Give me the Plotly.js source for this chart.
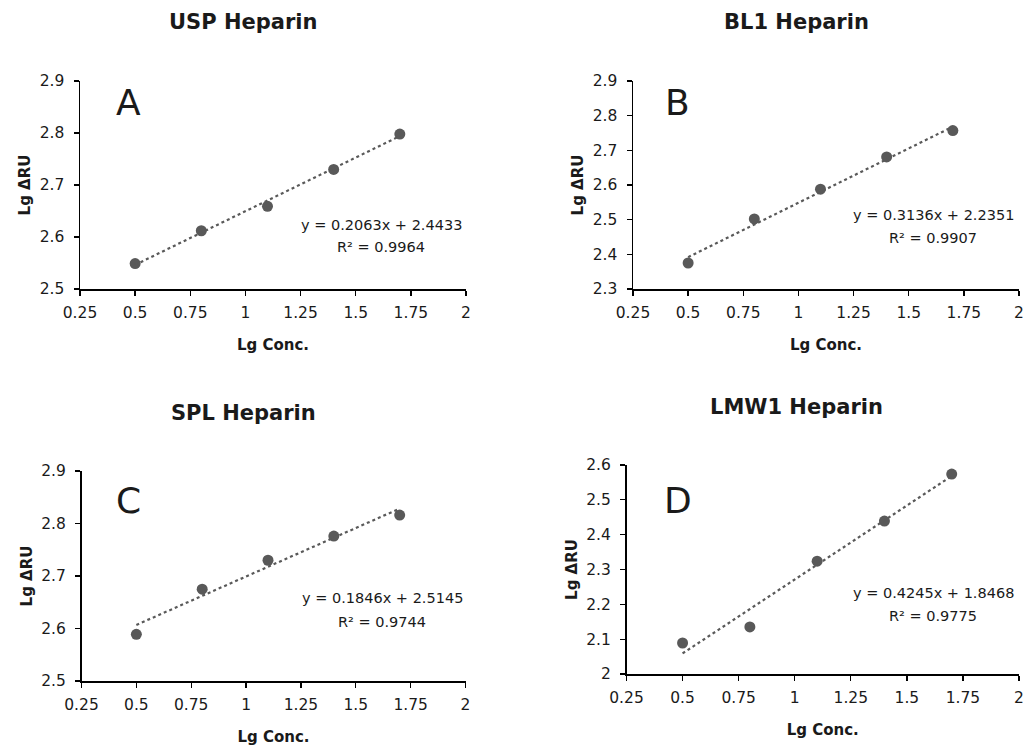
<!DOCTYPE html>
<html>
<head>
<meta charset="utf-8">
<script src="https://cdn.plot.ly/plotly-3.0.1.min.js"></script>
<style>html,body{margin:0;padding:0;background:#fff;}#chart{width:1031px;height:750px;}</style>
</head>
<body>
<div id="chart"></div>
<script>
// ---- data ----
const lgConc = [0.5, 0.8, 1.1, 1.4, 1.7];
const uspHeparin = [2.549, 2.612, 2.659, 2.730, 2.798];
const bl1Heparin = [2.375, 2.502, 2.588, 2.681, 2.757];
const splHeparin = [2.589, 2.675, 2.730, 2.776, 2.816];
const lmw1Heparin = [2.089, 2.135, 2.324, 2.439, 2.574];
const panelTitles = ["USP Heparin", "BL1 Heparin", "SPL Heparin", "LMW1 Heparin"];
const panelLetters = ["A", "B", "C", "D"];
const slopes = [0.2063, 0.3136, 0.1846, 0.4245];
const intercepts = [2.4433, 2.2351, 2.5145, 1.8468];
const rSquared = ["0.9964", "0.9907", "0.9744", "0.9775"];
const yRanges = [[2.5, 2.9], [2.3, 2.9], [2.5, 2.9], [2.0, 2.6]];
const series = [uspHeparin, bl1Heparin, splHeparin, lmw1Heparin];

// ---- layout geometry (pixels) ----
const W = 1031, H = 750;
const px = v => v / W, py = v => 1 - v / H;
const boxes = [
  {l: 80, r: 466, t: 81, b: 289},
  {l: 633, r: 1019, t: 81, b: 289},
  {l: 81.5, r: 465.5, t: 471, b: 681},
  {l: 626.5, r: 1019, t: 465, b: 674}
];
const titlePos = [[243, 22], [796, 22], [243, 413], [796, 407]];
const letterPos = [[128, 103], [677, 103], [128, 500], [678, 500]];
const eqPos = [[381, 225, 247], [933, 215, 238], [382, 598, 622], [933, 593, 616]];

const FONT = "DejaVu Sans, sans-serif";
const TXT = "#1a1a1a";
const MARK = "#595959";

const traces = [];
const layout = {
  width: W, height: H,
  margin: {l: 0, r: 0, t: 0, b: 0},
  paper_bgcolor: "#fff", plot_bgcolor: "#fff",
  showlegend: false,
  font: {family: FONT, color: TXT, size: 14},
  annotations: []
};

for (let i = 0; i < 4; i++) {
  const sx = i === 0 ? "" : String(i + 1);
  const xa = "x" + sx, ya = "y" + sx;
  const b = boxes[i];
  traces.push({
    x: lgConc, y: series[i], xaxis: xa, yaxis: ya,
    type: "scatter", mode: "markers", name: panelTitles[i],
    marker: {color: MARK, size: 11}
  });
  const xmin = Math.min(...lgConc), xmax = Math.max(...lgConc);
  traces.push({
    x: [xmin, xmax],
    y: [slopes[i] * xmin + intercepts[i], slopes[i] * xmax + intercepts[i]],
    xaxis: xa, yaxis: ya, type: "scatter", mode: "lines",
    name: "Linear (" + panelTitles[i] + ")",
    line: {color: MARK, width: 2.2, dash: "dot"}
  });
  const axCommon = {
    showline: true, linecolor: "#000", linewidth: 1.5,
    ticks: "outside", ticklen: 5, tickwidth: 1.3, tickcolor: "#000",
    showgrid: false, zeroline: false, fixedrange: true,
    tickfont: {family: FONT, size: 15.5, color: TXT}
  };
  layout["xaxis" + sx] = Object.assign({}, axCommon, {
    domain: [px(b.l), px(b.r)], anchor: ya,
    range: [0.25, 2], dtick: 0.25, tick0: 0.25,
    ticklabelstandoff: 4,
    title: {text: "<b>Lg Conc.</b>", font: {family: FONT, size: 15, color: TXT}, standoff: 18}
  });
  layout["yaxis" + sx] = Object.assign({}, axCommon, {
    domain: [py(b.b), py(b.t)], anchor: xa,
    range: yRanges[i], dtick: 0.1,
    ticklabelstandoff: 6,
    title: {text: "<b>Lg ΔRU</b>", font: {family: FONT, size: 15, color: TXT}, standoff: 5}
  });
  layout.annotations.push({
    text: "<b>" + panelTitles[i] + "</b>", xref: "paper", yref: "paper",
    x: px(titlePos[i][0]), y: py(titlePos[i][1]), xanchor: "center", yanchor: "middle",
    showarrow: false, font: {family: FONT, size: 21, color: TXT}
  });
  layout.annotations.push({
    text: panelLetters[i], xref: "paper", yref: "paper",
    x: px(letterPos[i][0]), y: py(letterPos[i][1]), xanchor: "center", yanchor: "middle",
    showarrow: false, font: {family: FONT, size: 36, color: TXT}
  });
  layout.annotations.push({
    text: "y = " + slopes[i].toFixed(4) + "x + " + intercepts[i].toFixed(4), xref: "paper", yref: "paper",
    x: px(eqPos[i][0]), y: py(eqPos[i][1]), xanchor: "center", yanchor: "middle",
    showarrow: false, font: {family: FONT, size: 14.5, color: TXT}
  });
  layout.annotations.push({
    text: "R² = " + rSquared[i], xref: "paper", yref: "paper",
    x: px(eqPos[i][0]), y: py(eqPos[i][2]), xanchor: "center", yanchor: "middle",
    showarrow: false, font: {family: FONT, size: 14.5, color: TXT}
  });
}

Plotly.newPlot("chart", traces, layout, {displayModeBar: false, staticPlot: true});
</script>
</body>
</html>
